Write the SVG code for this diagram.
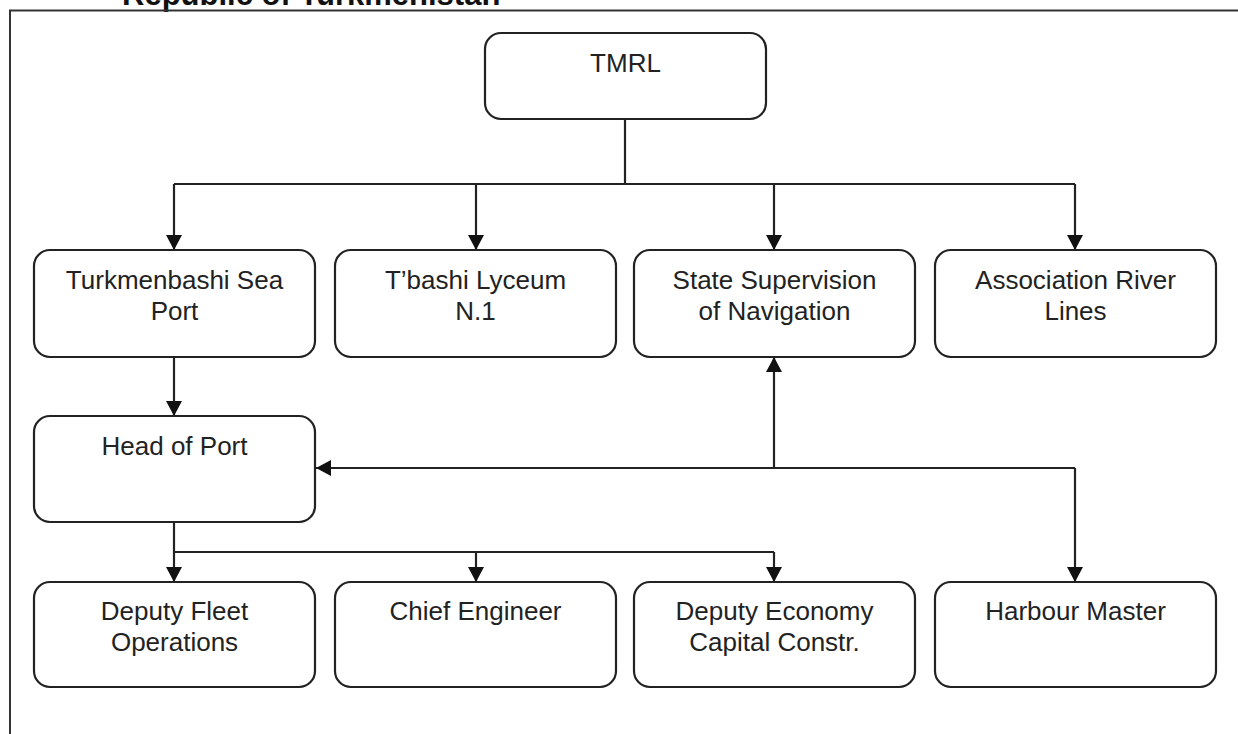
<svg xmlns="http://www.w3.org/2000/svg" width="1238" height="734" viewBox="0 0 1238 734">
<style>
.box{fill:#fff;stroke:#222;stroke-width:2.2}
.lbl{font-family:"Liberation Sans",Arial,sans-serif;font-size:26px;fill:#222;text-anchor:middle}
.ttl{font-family:"Liberation Sans",Arial,sans-serif;font-size:31px;font-weight:bold;fill:#111}
.con{fill:none;stroke:#222;stroke-width:2.2}
.frame{fill:none;stroke:#333;stroke-width:2}
</style>
<defs>
<marker id="arr" markerUnits="userSpaceOnUse" markerWidth="16" markerHeight="16" viewBox="0 0 15 16" refX="15" refY="8" orient="auto">
<path d="M0,0 L15,8 L0,16 Z" fill="#111"/>
</marker>
</defs>
<rect width="1238" height="734" fill="#fff"/>
<text class="ttl" x="122" y="5">Republic of Turkmenistan</text>
<path class="frame" d="M10,740 V10.5 H1245"/>
<g id="connectors">
<path class="con" d="M625,119 V184 M174,184 H1075"/>
<path class="con" d="M174,184 V250" marker-end="url(#arr)"/>
<path class="con" d="M476,184 V250" marker-end="url(#arr)"/>
<path class="con" d="M774,184 V250" marker-end="url(#arr)"/>
<path class="con" d="M1075,184 V250" marker-end="url(#arr)"/>
<path class="con" d="M174,357 V416" marker-end="url(#arr)"/>
<path class="con" d="M174,522 V582" marker-end="url(#arr)"/>
<path class="con" d="M174,552 H774"/>
<path class="con" d="M476,552 V582" marker-end="url(#arr)"/>
<path class="con" d="M774,552 V582" marker-end="url(#arr)"/>
<path class="con" d="M1075,468 H316" marker-end="url(#arr)"/>
<path class="con" d="M774,468 V357" marker-end="url(#arr)"/>
<path class="con" d="M1075,468 V582" marker-end="url(#arr)"/>
</g>
<g id="tmrl"><rect class="box" x="485" y="33" width="281" height="86" rx="16"/><text class="lbl" x="625.5" y="72">TMRL</text></g>
<g id="sea-port"><rect class="box" x="34" y="250" width="281" height="107" rx="16"/><text class="lbl" x="174.5" y="289">Turkmenbashi Sea</text><text class="lbl" x="174.5" y="320">Port</text></g>
<g id="lyceum"><rect class="box" x="335" y="250" width="281" height="107" rx="16"/><text class="lbl" x="475.5" y="289">T’bashi Lyceum</text><text class="lbl" x="475.5" y="320">N.1</text></g>
<g id="state-supervision"><rect class="box" x="634" y="250" width="281" height="107" rx="16"/><text class="lbl" x="774.5" y="289">State Supervision</text><text class="lbl" x="774.5" y="320">of Navigation</text></g>
<g id="river-lines"><rect class="box" x="935" y="250" width="281" height="107" rx="16"/><text class="lbl" x="1075.5" y="289">Association River</text><text class="lbl" x="1075.5" y="320">Lines</text></g>
<g id="head-of-port"><rect class="box" x="34" y="416" width="281" height="106" rx="16"/><text class="lbl" x="174.5" y="455">Head of Port</text></g>
<g id="deputy-fleet"><rect class="box" x="34" y="582" width="281" height="105" rx="16"/><text class="lbl" x="174.5" y="620">Deputy Fleet</text><text class="lbl" x="174.5" y="651">Operations</text></g>
<g id="chief-engineer"><rect class="box" x="335" y="582" width="281" height="105" rx="16"/><text class="lbl" x="475.5" y="620">Chief Engineer</text></g>
<g id="deputy-economy"><rect class="box" x="634" y="582" width="281" height="105" rx="16"/><text class="lbl" x="774.5" y="620">Deputy Economy</text><text class="lbl" x="774.5" y="651">Capital Constr.</text></g>
<g id="harbour-master"><rect class="box" x="935" y="582" width="281" height="105" rx="16"/><text class="lbl" x="1075.5" y="620">Harbour Master</text></g>
</svg>
